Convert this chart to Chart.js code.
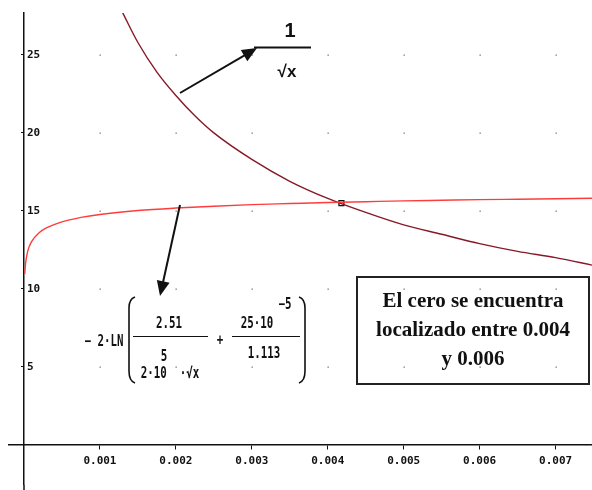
<!DOCTYPE html>
<html>
<head>
<meta charset="utf-8">
<script src="https://cdn.jsdelivr.net/npm/chart.js@4"></script>
<style>
  body { margin: 0; background: #fff; }
  #wrap { width: 592px; height: 490px; }
</style>
</head>
<body>
<div id="wrap"><canvas id="myChart" width="592" height="490"></canvas></div>
<script>
// values
const colebrookX = [0.00001, 0.00002, 0.00005, 0.0001, 0.0002, 0.0003, 0.0005, 0.00075, 0.001, 0.0015, 0.002, 0.0025, 0.003, 0.0035, 0.004, 0.0045, 0.005, 0.0055, 0.006, 0.0065, 0.007, 0.0075];
const colebrookY = [10.95, 11.6, 12.43, 13.03, 13.6, 13.92, 14.3, 14.58, 14.77, 15.02, 15.18, 15.3, 15.4, 15.47, 15.54, 15.59, 15.64, 15.68, 15.72, 15.75, 15.78, 15.81];
const invSqrtX = [0.0013, 0.0015, 0.00175, 0.002, 0.00225, 0.0025, 0.003, 0.0035, 0.004, 0.0045, 0.005, 0.0055, 0.006, 0.0065, 0.007, 0.0075];
const invSqrtY = [27.7, 25.8, 23.9, 22.4, 21.1, 20.0, 18.3, 16.9, 15.8, 14.9, 14.1, 13.5, 12.9, 12.4, 12.0, 11.5];
const crossX = [0.00418];
const crossY = [15.5];
const xTicks = [0.001, 0.002, 0.003, 0.004, 0.005, 0.006, 0.007];
const yTicks = [5, 10, 15, 20, 25];
const boxLines = ['El cero se encuentra', 'localizado entre 0.004', 'y 0.006'];

const toPts = (xs, ys) => xs.map((x, i) => ({ x: x, y: ys[i] }));

function mono(c, text, x, y, size, align) {
  c.save();
  c.font = 'bold ' + size + 'px "DejaVu Sans Mono"';
  c.textAlign = align || 'center';
  c.textBaseline = 'middle';
  c.translate(x, y);
  c.scale(0.72, 1);
  c.fillText(text, 0, 0);
  c.restore();
}

function arrow(c, x1, y1, x2, y2) {
  const a = Math.atan2(y2 - y1, x2 - x1), L = 15, W = 6.5;
  c.beginPath();
  c.moveTo(x1, y1);
  c.lineTo(x2 - L * Math.cos(a) * 0.6, y2 - L * Math.sin(a) * 0.6);
  c.lineWidth = 2;
  c.strokeStyle = '#111';
  c.stroke();
  c.beginPath();
  c.moveTo(x2, y2);
  c.lineTo(x2 - L * Math.cos(a) + W * Math.sin(a), y2 - L * Math.sin(a) - W * Math.cos(a));
  c.lineTo(x2 - L * Math.cos(a) - W * Math.sin(a), y2 - L * Math.sin(a) + W * Math.cos(a));
  c.closePath();
  c.fillStyle = '#111';
  c.fill();
}

// keep the axes from pushing the plot area in
function noPadding(scale) {
  scale.paddingTop = 0;
  scale.paddingBottom = 0;
  scale.paddingLeft = 0;
  scale.paddingRight = 0;
}

const extras = {
  id: 'extras',
  beforeDatasetsDraw(chart) {
    const c = chart.ctx, xs = chart.scales.x, ys = chart.scales.y, area = chart.chartArea;
    c.save();
    // dotted grid at tick crossings
    c.fillStyle = '#777';
    xTicks.forEach((xv) => {
      yTicks.forEach((yv) => {
        c.fillRect(Math.round(xs.getPixelForValue(xv)) - 0.5, Math.round(ys.getPixelForValue(yv)) - 0.5, 1.3, 1.3);
      });
    });
    // axis stubs running past the plot area
    const y0 = ys.getPixelForValue(0);
    c.beginPath();
    c.moveTo(8, y0);
    c.lineTo(area.left, y0);
    c.moveTo(area.right, y0);
    c.lineTo(chart.width, y0);
    c.moveTo(area.left, area.bottom);
    c.lineTo(area.left, chart.height);
    c.lineWidth = 1.5;
    c.strokeStyle = '#111';
    c.stroke();
    c.restore();
  },
  afterDraw(chart) {
    const c = chart.ctx;
    c.save();
    c.fillStyle = '#111';
    c.strokeStyle = '#111';

    // 1 / sqrt(x) label
    c.font = 'bold 20px "Liberation Sans"';
    c.textAlign = 'center';
    c.textBaseline = 'middle';
    c.fillText('1', 290, 31);
    c.beginPath();
    c.moveTo(254, 47.5);
    c.lineTo(311, 47.5);
    c.lineWidth = 2;
    c.stroke();
    c.font = 'bold 17px "Liberation Sans"';
    c.fillText('\u221Ax', 287, 72);
    arrow(c, 180, 93, 257, 48);

    // arrow to the red curve
    arrow(c, 180, 205, 160, 296);

    // formula
    mono(c, '\u2212 2\u00B7LN', 104, 342, 15);
    c.lineWidth = 1.6;
    c.beginPath();
    c.moveTo(135, 297);
    c.quadraticCurveTo(129, 299, 129, 308);
    c.lineTo(129, 371);
    c.quadraticCurveTo(129, 381, 135, 383);
    c.stroke();
    c.beginPath();
    c.moveTo(299, 297);
    c.quadraticCurveTo(305, 299, 305, 308);
    c.lineTo(305, 371);
    c.quadraticCurveTo(305, 381, 299, 383);
    c.stroke();
    c.lineWidth = 1;
    c.beginPath();
    c.moveTo(133, 336.5);
    c.lineTo(208, 336.5);
    c.moveTo(232, 336.5);
    c.lineTo(300, 336.5);
    c.stroke();
    mono(c, '2.51', 169, 324, 15);
    mono(c, '5', 164, 357, 15);
    mono(c, '2\u00B710  \u00B7\u221Ax', 170, 374, 15);
    mono(c, '+', 220, 341, 15);
    mono(c, '25\u00B710', 257, 324, 15);
    mono(c, '\u22125', 285, 305, 15);
    mono(c, '1.113', 264, 354, 15);

    // note box
    c.lineWidth = 2;
    c.strokeStyle = '#222';
    c.strokeRect(357, 277, 232, 107);
    c.font = 'bold 21px "Liberation Serif"';
    c.fillStyle = '#111';
    boxLines.forEach((t, i) => {
      c.fillText(t, 473, 302 + i * 29);
    });
    c.restore();
  }
};

const ctx = document.getElementById('myChart');
const myChart = new Chart(ctx, {
  type: 'scatter',
  plugins: [extras],
  data: {
    datasets: [
      {
        label: 'Colebrook',
        data: toPts(colebrookX, colebrookY),
        showLine: true,
        borderColor: 'rgb(255, 60, 60)',
        borderWidth: 1.4,
        pointRadius: 0,
        cubicInterpolationMode: 'monotone',
        clip: { left: 0, top: 0, right: 6, bottom: 0 },
      },
      {
        label: '1/sqrt(x)',
        data: toPts(invSqrtX, invSqrtY),
        showLine: true,
        borderColor: 'rgb(135, 25, 40)',
        borderWidth: 1.4,
        pointRadius: 0,
        cubicInterpolationMode: 'monotone',
        clip: { left: 0, top: 0, right: 6, bottom: 0 },
      },
      {
        label: 'cruce',
        data: toPts(crossX, crossY),
        pointStyle: 'rect',
        pointRadius: 3.5,
        borderColor: '#111',
        borderWidth: 1.3,
        backgroundColor: 'rgba(0,0,0,0)',
      },
    ],
  },
  options: {
    responsive: false,
    animation: false,
    layout: {
      padding: { left: 24, top: 13, right: 0, bottom: 0 },
    },
    scales: {
      x: {
        type: 'linear',
        position: { y: 0 },
        min: 0,
        max: 0.00741,
        afterFit: noPadding,
        afterBuildTicks: (axis) => {
          axis.ticks = xTicks.map((v) => ({ value: v }));
        },
        border: { color: '#111', width: 1.5 },
        grid: { drawOnChartArea: false, drawTicks: true, tickLength: 4, color: '#111' },
        ticks: {
          color: '#111',
          padding: 6,
          maxRotation: 0,
          font: { family: 'DejaVu Sans Mono', size: 11, weight: 'bold' },
          callback: (v) => Number(v).toFixed(3),
        },
      },
      y: {
        type: 'linear',
        position: 'left',
        min: -2.56,
        max: 27.69,
        afterFit: (scale) => {
          noPadding(scale);
          scale.width = 0;
        },
        afterBuildTicks: (axis) => {
          axis.ticks = yTicks.map((v) => ({ value: v }));
        },
        border: { color: '#111', width: 1.5 },
        grid: { drawOnChartArea: false, drawTicks: true, tickLength: 3, color: '#111' },
        ticks: {
          mirror: true,
          color: '#111',
          padding: 3,
          font: { family: 'DejaVu Sans Mono', size: 11, weight: 'bold' },
          callback: (v) => String(v),
        },
      },
    },
    plugins: {
      legend: { display: false },
      tooltip: { enabled: false },
    },
  },
});
</script>
</body>
</html>
